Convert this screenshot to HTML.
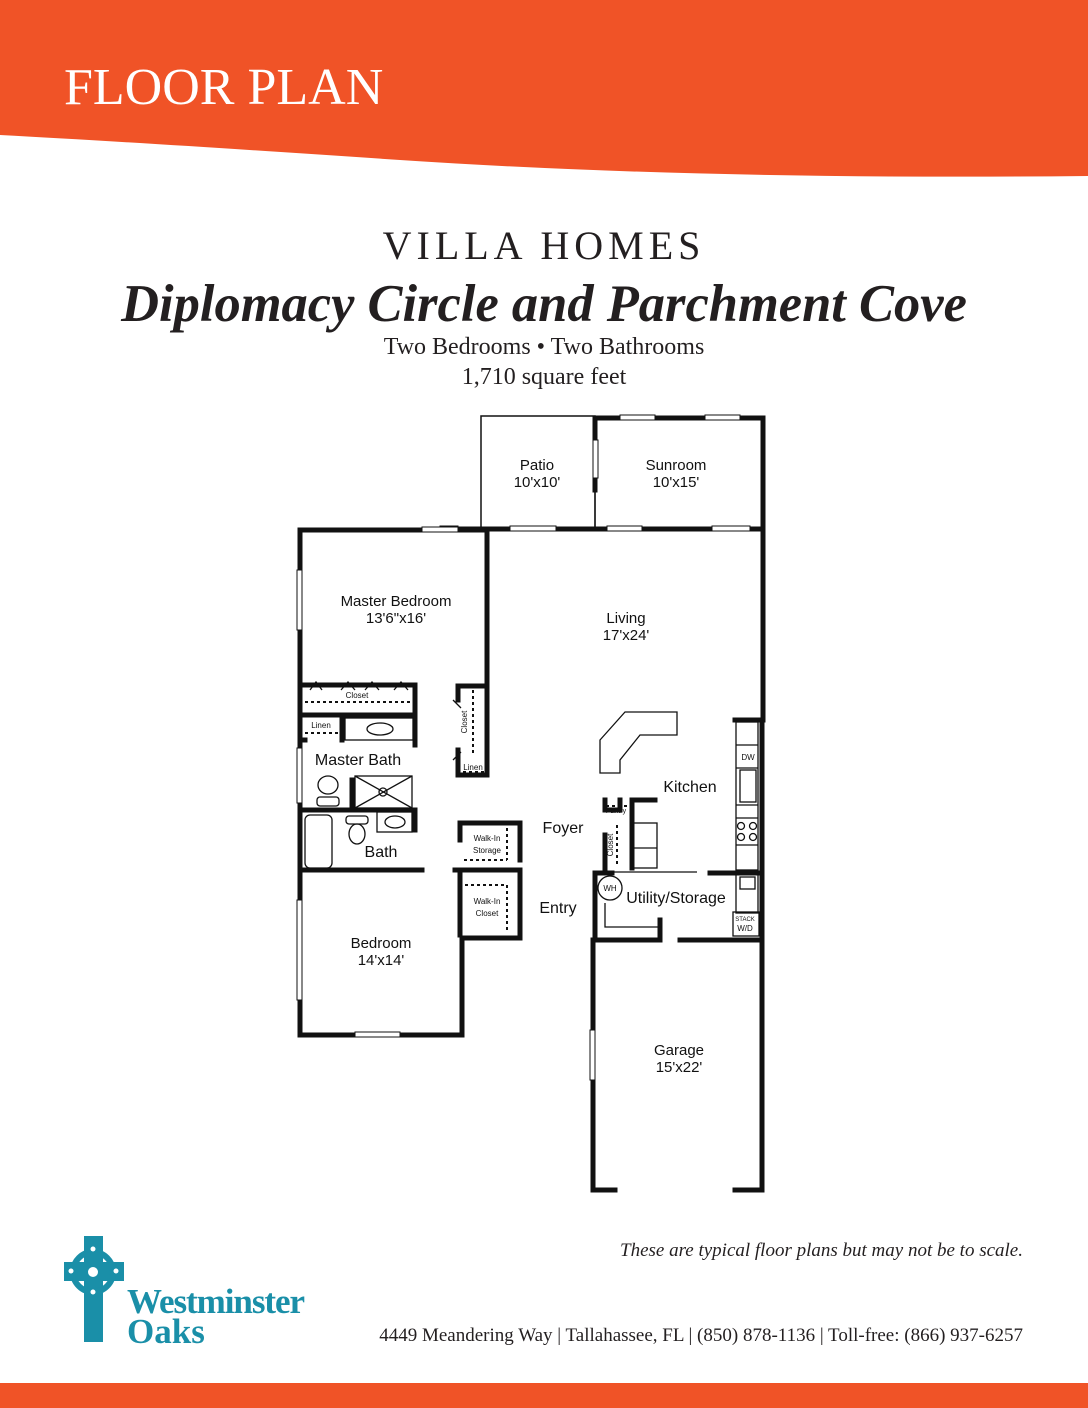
<!DOCTYPE html>
<html><head><meta charset="utf-8"><style>
html,body{margin:0;padding:0;background:#fff}
body{width:1088px;height:1408px;position:relative;overflow:hidden;font-family:"Liberation Serif",serif}
.t{position:absolute;left:0;width:1088px;text-align:center;color:#231f20}
</style></head><body>
<svg width="1088" height="1408" style="position:absolute;left:0;top:0">
<path d="M0 0H1088V176Q700 180 400 160Q150 143 0 135Z" fill="#F05327"/>
<rect x="0" y="1383" width="1088" height="25" fill="#F05327"/>
<text x="64" y="104" font-family="Liberation Serif" font-size="52" fill="#fff">FLOOR PLAN</text>
<g stroke="#111" fill="none" font-family="Liberation Sans" font-size="15" >
<rect x="481" y="416" width="114" height="112" stroke-width="1.5"/>
<g stroke-width="5" stroke-linecap="square">
<path d="M595 418H763V720"/>
<path d="M595 418V440M595 478V490"/>
<path d="M440 529H763"/>
<path d="M300 530H487V685"/>
<path d="M300 530V1035H462V938H520"/>
<path d="M762 720V1190H735"/>
<path d="M593 940V1190H615"/>
<path d="M302 685H415V715"/>
<path d="M302 715H415"/>
<path d="M415 715V745M342 715V740M302 740H305"/>
<path d="M302 810H415V830M352 780V810"/>
<path d="M300 870H422"/>
<path d="M458 686H487V775M458 686V700M458 750V775H487"/>
<path d="M460 823H520V860M460 823V840M455 870H520M460 870V885"/>
<path d="M520 870V938M460 875V935"/>
<path d="M735 720H762M605 800V810H620V800"/>
<path d="M632 800H655M632 800V868M605 835V868"/>
<path d="M595 873H612M595 873V940H660M680 940H760M660 920V940M710 940H735"/>
<path d="M710 873H762"/>
</g>
<g fill="#fff" stroke-width="1">
<rect x="620" y="415" width="35" height="5"/><rect x="705" y="415" width="35" height="5"/>
<rect x="593" y="440" width="5" height="38"/>
<rect x="440" y="526" width="18" height="5"/><rect x="510" y="526" width="46" height="5"/><rect x="607" y="526" width="35" height="5"/><rect x="712" y="526" width="38" height="5"/>
<rect x="422" y="527" width="36" height="5"/>
<rect x="297" y="570" width="5" height="60"/><rect x="297" y="748" width="5" height="55"/><rect x="297" y="900" width="5" height="100"/>
<rect x="355" y="1032" width="45" height="5"/><rect x="590" y="1030" width="5" height="50"/>
</g>
<g stroke-width="1.3">
<line x1="595" y1="490" x2="595" y2="528"/>
<path d="M600 740L625 712H677V735H640L620 760V773H600Z"/>
<rect x="736" y="722" width="22" height="148"/>
<line x1="736" y1="745" x2="758" y2="745"/><line x1="736" y1="768" x2="758" y2="768"/><line x1="736" y1="805" x2="758" y2="805"/><line x1="736" y1="818" x2="758" y2="818"/><line x1="736" y1="845" x2="758" y2="845"/>
<rect x="740" y="770" width="16" height="32"/>
<circle cx="741" cy="826" r="3.5"/><circle cx="753" cy="826" r="3.5"/><circle cx="741" cy="837" r="3.5"/><circle cx="753" cy="837" r="3.5"/>
<rect x="736" y="873" width="22" height="40"/><rect x="740" y="877" width="15" height="12"/>
<rect x="733" y="912" width="26" height="24"/>
<circle cx="610" cy="888" r="12"/>
<path d="M605 903V927H662"/>
<rect x="632" y="823" width="25" height="45"/><line x1="632" y1="848" x2="657" y2="848"/>
<path d="M612 872H697"/>
<rect x="355" y="776" width="57" height="32"/><path d="M355 776L412 808M412 776L355 808"/><circle cx="383" cy="792" r="4"/>
<rect x="345" y="718" width="68" height="22"/><ellipse cx="380" cy="729" rx="13" ry="6"/>
<ellipse cx="328" cy="785" rx="10" ry="9"/><rect x="317" y="797" width="22" height="9" rx="3"/>
<rect x="305" y="815" width="27" height="53" rx="5"/><rect x="377" y="812" width="35" height="20"/><ellipse cx="395" cy="822" rx="10" ry="6"/>
<rect x="346" y="816" width="22" height="8" rx="3"/><ellipse cx="357" cy="834" rx="8" ry="10"/>
<path d="M310 690L316 682L322 690M341 690L348 682L355 690M365 690L372 682L379 690M394 690L401 682L408 690M453 700L461 708M453 760L461 752"/>
</g>
<g stroke-width="2" stroke-dasharray="3 3">
<line x1="305" y1="702" x2="410" y2="702"/><line x1="305" y1="733" x2="340" y2="733"/>
<line x1="473" y1="690" x2="473" y2="755"/><line x1="463" y1="772" x2="485" y2="772"/>
<line x1="507" y1="828" x2="507" y2="860"/><line x1="464" y1="860" x2="507" y2="860"/>
<line x1="465" y1="885" x2="507" y2="885"/><line x1="507" y1="885" x2="507" y2="933"/>
<line x1="606" y1="806" x2="627" y2="806"/><line x1="617" y1="825" x2="617" y2="865"/>
</g>
<g fill="#111" stroke="none" text-anchor="middle">
<text x="537" y="470">Patio</text><text x="537" y="487">10'x10'</text>
<text x="676" y="470">Sunroom</text><text x="676" y="487">10'x15'</text>
<text x="396" y="606">Master Bedroom</text><text x="396" y="623">13'6"x16'</text>
<text x="626" y="623">Living</text><text x="626" y="640">17'x24'</text>
<text x="358" y="765" font-size="16">Master Bath</text>
<text x="381" y="857" font-size="16">Bath</text>
<text x="690" y="792" font-size="16">Kitchen</text>
<text x="563" y="833" font-size="16">Foyer</text>
<text x="558" y="913" font-size="16">Entry</text>
<text x="676" y="903" font-size="16">Utility/Storage</text>
<text x="381" y="948">Bedroom</text><text x="381" y="965">14'x14'</text>
<text x="679" y="1055">Garage</text><text x="679" y="1072">15'x22'</text>
<g font-size="8"><text x="357" y="698">Closet</text><text x="321" y="728">Linen</text><text x="473" y="770">Linen</text>
<text x="487" y="841">Walk-In</text><text x="487" y="853">Storage</text><text x="487" y="904">Walk-In</text><text x="487" y="916">Closet</text>
<text x="748" y="760">DW</text><text x="610" y="891">WH</text><text x="616" y="813" font-size="7">Pantry</text>
<text x="745" y="921" font-size="6">STACK</text><text x="745" y="931">W/D</text>
<text transform="translate(467 722) rotate(-90)">Closet</text><text transform="translate(613 845) rotate(-90)">Closet</text></g>
</g>
</g>
<g fill="#1a8fa8">
<rect x="84" y="1236" width="19" height="106"/><rect x="64" y="1262" width="60" height="19"/>
<circle cx="93" cy="1272" r="20" fill="none" stroke="#1a8fa8" stroke-width="6"/>
</g>
<g fill="#fff"><circle cx="93" cy="1272" r="5"/><circle cx="93" cy="1249" r="2.5"/><circle cx="71" cy="1271" r="2.5"/><circle cx="116" cy="1271" r="2.5"/><circle cx="93" cy="1292" r="2.5"/></g>
<text x="127" y="1313" font-family="Liberation Serif" font-size="35" font-weight="bold" fill="#1a8fa8" textLength="178">Westminster</text>
<text x="127" y="1343" font-family="Liberation Serif" font-size="35" font-weight="bold" fill="#1a8fa8">Oaks</text>
</svg>
<div class="t" style="top:222px;font-size:40px;letter-spacing:5px">VILLA HOMES</div>
<div class="t" style="top:274px;font-size:52.5px;font-weight:bold;font-style:italic">Diplomacy Circle and Parchment Cove</div>
<div class="t" style="top:334px;font-size:24px">Two Bedrooms • Two Bathrooms</div>
<div class="t" style="top:364px;font-size:24px">1,710 square feet</div>
<div style="position:absolute;right:65px;top:1240px;font-size:19px;font-style:italic;color:#231f20">These are typical floor plans but may not be to scale.</div>
<div style="position:absolute;right:65px;top:1325px;font-size:19px;color:#231f20">4449 Meandering Way | Tallahassee, FL | (850) 878-1136 | Toll-free: (866) 937-6257</div>
</body></html>
